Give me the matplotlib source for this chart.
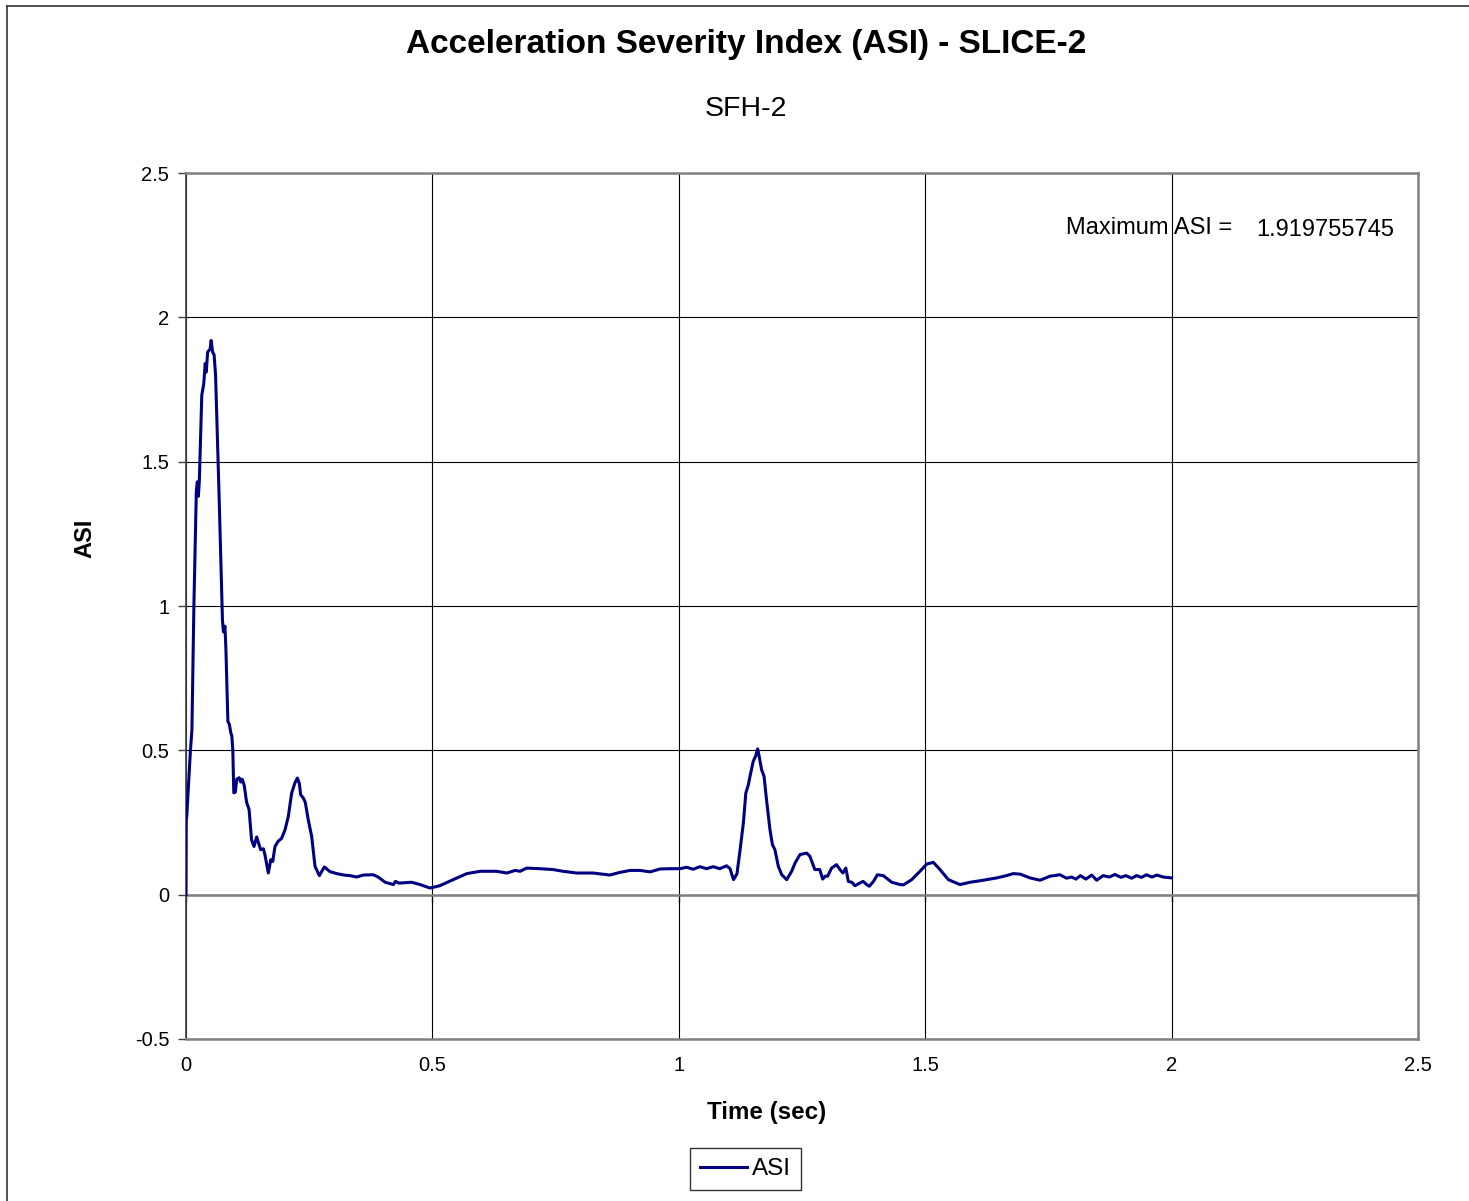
import matplotlib
matplotlib.use("Agg")
import matplotlib.pyplot as plt
from matplotlib.lines import Line2D

plt.rcParams['font.family'] = ['Liberation Sans', 'DejaVu Sans']

# ---- data ----
time_sec = [
    0.0, 0.0005, 0.0015, 0.009, 0.012, 0.016, 0.021, 0.023, 0.025, 0.027,
    0.032, 0.036, 0.039, 0.041, 0.044, 0.049, 0.051, 0.054, 0.057, 0.060,
    0.067, 0.072, 0.074, 0.076, 0.079, 0.081, 0.085, 0.088, 0.091, 0.093,
    0.095, 0.097, 0.100, 0.103, 0.108, 0.111, 0.114, 0.118, 0.123, 0.128,
    0.133, 0.138, 0.1435, 0.147, 0.1515, 0.157, 0.160, 0.167, 0.172, 0.176,
    0.1806, 0.187, 0.194, 0.201, 0.2076, 0.2144, 0.221, 0.226, 0.230, 0.2327,
    0.238, 0.242, 0.248, 0.255, 0.2618, 0.2706, 0.2807, 0.292, 0.3058, 0.320,
    0.333, 0.346, 0.360, 0.380, 0.390, 0.404, 0.421, 0.425, 0.432, 0.458,
    0.475, 0.495, 0.515, 0.542, 0.570, 0.597, 0.630, 0.651, 0.668, 0.678,
    0.691, 0.718, 0.745, 0.765, 0.793, 0.826, 0.860, 0.880, 0.901, 0.921,
    0.942, 0.962, 0.982, 1.0025, 1.016, 1.029, 1.043, 1.056, 1.070, 1.083,
    1.097, 1.104, 1.111, 1.118, 1.124, 1.131, 1.136, 1.141, 1.1445, 1.151,
    1.156, 1.160, 1.163, 1.168, 1.173, 1.178, 1.185, 1.190, 1.195, 1.202,
    1.209, 1.219, 1.229, 1.236, 1.246, 1.2595, 1.266, 1.276, 1.286, 1.292,
    1.297, 1.302, 1.310, 1.320, 1.327, 1.333, 1.339, 1.344, 1.351, 1.3575,
    1.367, 1.374, 1.381, 1.3866, 1.395, 1.403, 1.415, 1.432, 1.449, 1.456,
    1.4726, 1.4894, 1.503, 1.5165, 1.530, 1.547, 1.5706, 1.591, 1.618, 1.645,
    1.665, 1.679, 1.693, 1.7127, 1.733, 1.7532, 1.7735, 1.787, 1.797, 1.806,
    1.815, 1.826, 1.838, 1.848, 1.861, 1.874, 1.885, 1.897, 1.907, 1.919,
    1.929, 1.939, 1.949, 1.960, 1.970, 1.983, 2.0,
]
asi = [
    0.0, 0.26, 0.27, 0.50, 0.57, 1.0, 1.40, 1.43, 1.38, 1.43,
    1.73, 1.77, 1.84, 1.81, 1.88, 1.89, 1.92, 1.88, 1.87, 1.80,
    1.39, 1.08, 0.95, 0.91, 0.93, 0.85, 0.60, 0.59, 0.56, 0.55,
    0.50, 0.353, 0.355, 0.40, 0.405, 0.39, 0.40, 0.38, 0.32, 0.295,
    0.19, 0.167, 0.20, 0.18, 0.156, 0.159, 0.14, 0.075, 0.121, 0.115,
    0.167, 0.185, 0.195, 0.225, 0.271, 0.352, 0.387, 0.404, 0.385, 0.346,
    0.335, 0.32, 0.26, 0.202, 0.098, 0.066, 0.096, 0.080, 0.073, 0.068,
    0.066, 0.061, 0.068, 0.069, 0.061, 0.043, 0.035, 0.046, 0.040, 0.043,
    0.035, 0.023, 0.031, 0.052, 0.073, 0.081, 0.081, 0.075, 0.084, 0.081,
    0.092, 0.090, 0.087, 0.081, 0.075, 0.075, 0.068, 0.077, 0.084, 0.084,
    0.079, 0.089, 0.090, 0.090, 0.095, 0.088, 0.097, 0.090, 0.097, 0.090,
    0.100, 0.090, 0.052, 0.072, 0.150, 0.248, 0.352, 0.38, 0.41, 0.462,
    0.48, 0.505, 0.48, 0.433, 0.41, 0.329, 0.225, 0.173, 0.156, 0.098,
    0.069, 0.052, 0.081, 0.110, 0.139, 0.144, 0.133, 0.087, 0.087, 0.054,
    0.064, 0.064, 0.092, 0.104, 0.087, 0.075, 0.092, 0.046, 0.043, 0.031,
    0.040, 0.046, 0.035, 0.029, 0.046, 0.069, 0.066, 0.043, 0.035, 0.034,
    0.052, 0.081, 0.106, 0.112, 0.087, 0.052, 0.035, 0.043, 0.050, 0.058,
    0.066, 0.073, 0.071, 0.058, 0.050, 0.064, 0.069, 0.057, 0.061, 0.054,
    0.066, 0.054, 0.068, 0.050, 0.066, 0.061, 0.070, 0.060, 0.066, 0.057,
    0.066, 0.060, 0.069, 0.061, 0.068, 0.061, 0.058,
]
x_ticks = [0, 0.5, 1, 1.5, 2, 2.5]
x_tick_labels = ['0', '0.5', '1', '1.5', '2', '2.5']
y_ticks = [-0.5, 0, 0.5, 1, 1.5, 2, 2.5]
y_tick_labels = ['-0.5', '0', '0.5', '1', '1.5', '2', '2.5']
max_asi_label = 'Maximum ASI ='
max_asi_value = '1.919755745'

W, H = 1469, 1201
fig = plt.figure(figsize=(W / 100, H / 100), dpi=100)
fig.patch.set_facecolor('white')

# outer chart border (left and top visible)
fig.add_artist(Line2D([7 / W, 7 / W], [0, 1 - 6 / H], transform=fig.transFigure,
                      color='#333333', lw=1.2))
fig.add_artist(Line2D([7 / W, 1], [1 - 6 / H, 1 - 6 / H], transform=fig.transFigure,
                      color='#333333', lw=1.2))

ax = fig.add_axes([186 / W, 1 - 1039 / H, (1418 - 186) / W, (1039 - 173) / H])
ax.set_xlim(0, 2.5)
ax.set_ylim(-0.5, 2.5)

ax.grid(True, color='black', lw=0.8)
ax.set_axisbelow(True)
ax.axhline(0, color='#808080', lw=1.8, zorder=1.5)

ax.plot(time_sec, asi, color='#000080', lw=2.2, label='ASI', zorder=3)

for side in ['top', 'right', 'bottom']:
    ax.spines[side].set_color('#808080')
    ax.spines[side].set_linewidth(1.8)
ax.spines['left'].set_color('#404040')
ax.spines['left'].set_linewidth(1.2)

ax.set_xticks(x_ticks)
ax.set_xticklabels(x_tick_labels, fontsize=14.5)
ax.set_yticks(y_ticks)
ax.set_yticklabels(y_tick_labels, fontsize=14.5)
ax.tick_params(axis='x', length=0, pad=12)
ax.tick_params(axis='y', length=6, width=1, direction='out', pad=6, color='#404040')

sec = ax.secondary_xaxis(1 / 6)
sec.set_xticks(x_ticks)
sec.set_xticklabels([])
sec.tick_params(length=5, width=1, direction='out', color='#404040')
sec.spines['bottom'].set_visible(False)

ax.set_xlabel('Time (sec)', fontsize=17.4, fontweight='bold', va='center')
ax.xaxis.set_label_coords((767 - 186) / 1232, (1039 - 1112) / 866)
ax.set_ylabel('ASI', fontsize=17, fontweight='bold', va='center')
ax.yaxis.set_label_coords((85 - 186) / 1232, (1039 - 538) / 866)

ax.text(1.7857, 2.309, max_asi_label, fontsize=17, va='center', ha='left')
ax.text(2.171, 2.303, max_asi_value, fontsize=17, va='center', ha='left')

fig.text(746 / W, 1 - 45 / H, 'Acceleration Severity Index (ASI) - SLICE-2',
         fontsize=24, fontweight='bold', ha='center', va='center')
fig.text(746 / W, 1 - 109 / H, 'SFH-2', fontsize=20.5, ha='center', va='center')

leg = ax.legend(loc='center', bbox_to_anchor=(745.5 / W, 1 - 1169 / H),
                bbox_transform=fig.transFigure, fontsize=17.5, frameon=True,
                fancybox=False, edgecolor='black', handlelength=1.95,
                handletextpad=0.2, borderpad=0.4, borderaxespad=0)
leg.get_frame().set_linewidth(1.0)

fig.savefig('out.png', dpi=100)
